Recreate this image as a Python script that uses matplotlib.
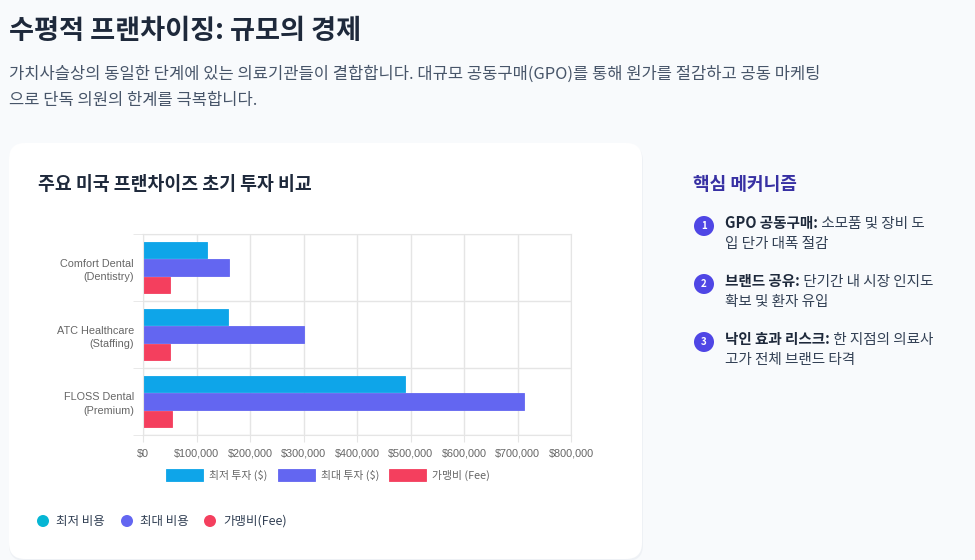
import numpy as np
import matplotlib
matplotlib.use('Agg')
from matplotlib import pyplot as plt
from matplotlib.patches import FancyBboxPatch, Rectangle, Circle

plt.rcParams['font.family'] = ['Noto Sans CJK KR', 'DejaVu Sans']

# data
categories = ['Comfort Dental\n(Dentistry)', 'ATC Healthcare\n(Staffing)', 'FLOSS Dental\n(Premium)']
min_invest = [120000, 158000, 490000]
max_invest = [160000, 300000, 713000]
fees = [50000, 50000, 55000]
series_names = ['최저 투자 ($)', '최대 투자 ($)', '가맹비 (Fee)']
bar_colors = ['#0ea5e9', '#6366f1', '#f43f5e']
dot_names = ['최저 비용', '최대 비용', '가맹비(Fee)']
dot_colors = ['#06b6d4', '#6366f1', '#f43f5e']
mech_titles = ['GPO 공동구매:', '브랜드 공유:', '낙인 효과 리스크:']
mech_lines = [['소모품 및 장비 도', '입 단가 대폭 절감'],
              ['단기간 내 시장 인지도', '확보 및 환자 유입'],
              ['한 지점의 의료사', '고가 전체 브랜드 타격']]

W, H = 975, 560
fig = plt.figure(figsize=(W / 100, H / 100), dpi=100, facecolor='#f8fafc')

# pixel-space background axes
bg = fig.add_axes([0, 0, 1, 1])
bg.set_xlim(0, W)
bg.set_ylim(H, 0)
bg.axis('off')

# header
bg.text(9, 31, '수평적 프랜차이징: 규모의 경제', fontsize=19.6, fontweight='bold',
        color='#1e293b', va='center', ha='left')
bg.text(9, 74, '가치사슬상의 동일한 단계에 있는 의료기관들이 결합합니다. 대규모 공동구매(GPO)를 통해 원가를 절감하고 공동 마케팅',
        fontsize=11.9, color='#475569', va='center', ha='left')
bg.text(9, 101, '으로 단독 의원의 한계를 극복합니다.',
        fontsize=11.9, color='#475569', va='center', ha='left')

# card
bg.add_patch(FancyBboxPatch((9, 145), 634, 416, boxstyle='round,pad=0,rounding_size=16',
                            fc='#eef1f5', ec='none'))
bg.add_patch(FancyBboxPatch((9, 143), 633, 416, boxstyle='round,pad=0,rounding_size=16',
                            fc='white', ec='none'))
bg.text(38, 184, '주요 미국 프랜차이즈 초기 투자 비교', fontsize=13.2, fontweight='bold',
        color='#1e293b', va='center', ha='left')

# chart
ax = fig.add_axes([143 / W, 1 - 435 / H, (571 - 143) / W, (435 - 234) / H])
ax.set_zorder(2)
y = np.arange(len(categories))
bh = 0.24
step = 0.2667
for i, (vals, c) in enumerate(zip([min_invest, max_invest, fees], bar_colors)):
    ax.barh(y + (i - 1) * step, vals, height=bh, color=c, edgecolor=c, linewidth=0.6)

ax.set_xlim(0, 800000)
ax.set_ylim(2.5, -0.5)
xt = np.arange(0, 800001, 100000)
ax.set_xticks(xt, ['${:,.0f}'.format(v) for v in xt])
ax.set_yticks(y, categories)
ax.set_yticks([-0.5, 0.5, 1.5, 2.5], minor=True)
ax.set_axisbelow(True)
ax.grid(axis='x', color='#e5e5e5', lw=1)
ax.grid(axis='y', which='minor', color='#e5e5e5', lw=1)
for s in ax.spines.values():
    s.set_color('#e5e5e5')
ax.tick_params(axis='y', which='major', length=0, pad=6.5)
ax.tick_params(axis='y', which='minor', length=7, color='#e5e5e5')
ax.tick_params(axis='x', length=5, color='#e5e5e5', pad=5)
for lab in ax.get_xticklabels() + ax.get_yticklabels():
    lab.set_family(['Liberation Sans', 'Noto Sans CJK KR'])
    lab.set_fontsize(7.8)
    lab.set_color('#666666')
for lab in ax.get_yticklabels():
    lab.set_linespacing(1.45)

# chart legend
leg_x = [166, 278, 389]
for lx, name, c in zip(leg_x, series_names, bar_colors):
    bg.add_patch(Rectangle((lx, 469), 37, 12, fc=c, ec=c, lw=0.6))
    bg.text(lx + 43, 475.5, name, fontsize=7.8, color='#666666', va='center', ha='left')

# html legend
for dx, name, c in zip([43, 127, 210], dot_names, dot_colors):
    bg.add_patch(Circle((dx, 521), 6, fc=c, ec='none'))
    bg.text(dx + 13, 521, name, fontsize=9, color='#334155', va='center', ha='left')

# right panel
bg.text(693, 184, '핵심 메커니즘', fontsize=13, fontweight='bold', color='#3730a3',
        va='center', ha='left')
item_y = [223, 281, 339]
for k, (ty, title, lines) in enumerate(zip(item_y, mech_titles, mech_lines)):
    bg.add_patch(Circle((704, ty + 3), 10, fc='#4f46e5', ec='none'))
    bg.text(704, ty + 3, str(k + 1), fontsize=7, fontweight='bold', color='white',
            ha='center', va='center')
    t = bg.text(725, ty, title, fontsize=10.5, fontweight='bold', color='#1e293b',
                va='center', ha='left')
    bg.annotate(' ' + lines[0], xy=(1, 0), xycoords=t, fontsize=10.5, color='#334155',
                va='bottom', ha='left')
    bg.text(725, ty + 21, lines[1], fontsize=10.5, color='#334155', va='center', ha='left')

fig.savefig('out.png', dpi=100, facecolor=fig.get_facecolor())
